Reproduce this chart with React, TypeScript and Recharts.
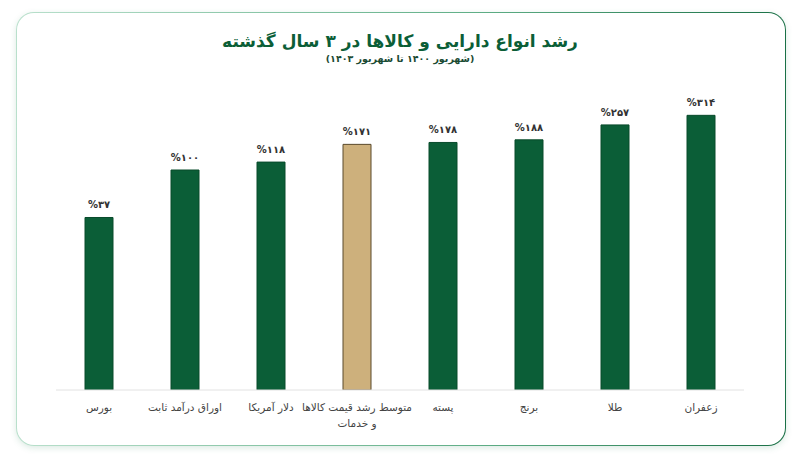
import React from 'react'
import { BarChart, Bar, XAxis, YAxis, Cell, LabelList } from 'recharts'

// categories left to right, as shown
const categories = ['بورس', 'اوراق درآمد ثابت', 'دلار آمریکا', 'متوسط رشد قیمت کالاها و خدمات', 'پسته', 'برنج', 'طلا', 'زعفران']
const growth = [37, 100, 118, 171, 178, 188, 257, 314]
const highlighted = [false, false, false, true, false, false, false, false]

const GREEN = '#0b5e37'
const GREEN_EDGE = '#084a2b'
const TAN = '#cdb07c'
const TAN_EDGE = '#5a4a2c'
const FONT = '"DejaVu Sans", "Noto Sans", sans-serif'

const data = categories.map((name, i) => ({ name, value: growth[i], avg: highlighted[i] }))

const toFa = (n: number) => String(n).replace(/\d/g, (d) => '۰۱۲۳۴۵۶۷۸۹'[+d])

function CategoryTick(props: any) {
  const { x, y, payload } = props
  const label: string = payload.value
  // the long label wraps in two lines
  const lines = label.startsWith('متوسط') ? ['متوسط رشد قیمت کالاها', 'و خدمات'] : [label]
  return (
    <g>
      {lines.map((line, i) => (
        <text
          key={i}
          x={x}
          y={y + 13 + i * 16}
          textAnchor="middle"
          direction="rtl"
          fontFamily={FONT}
          fontSize={10.5}
          fill="#444"
        >
          {line}
        </text>
      ))}
    </g>
  )
}

function ValueLabel(props: any) {
  const { x, y, width, value } = props
  return (
    <text
      x={x + width / 2}
      y={y - 9}
      textAnchor="middle"
      fontFamily={FONT}
      fontSize={10}
      fontWeight="bold"
      fill="#333"
      direction="ltr"
    >
      {'%' + toFa(value)}
    </text>
  )
}

export default function App() {
  return (
    <div style={{ position: 'absolute', left: 0, top: 0, width: 800, height: 459, background: '#fff', overflow: 'hidden' }}>
      <div
        style={{
          position: 'absolute',
          left: 16,
          top: 12,
          width: 768,
          height: 432,
          borderRadius: 18,
          border: '1.5px solid transparent',
          background: 'linear-gradient(#fff, #fff) padding-box, linear-gradient(90deg, #b9e0cc, #5fae86 60%, #1a7046) border-box',
          boxShadow: '0 2px 6px rgba(60, 140, 100, 0.18)',
        }}
      />
      <div
        style={{
          position: 'absolute',
          left: 0,
          top: 30,
          width: 800,
          textAlign: 'center',
          direction: 'rtl',
          fontFamily: FONT,
          color: '#0b5e37',
        }}
      >
        <div style={{ fontSize: 17, fontWeight: 'bold', lineHeight: '22px' }}>رشد انواع دارایی و کالاها در ۳ سال گذشته</div>
        <div style={{ fontSize: 9.5, fontWeight: 'bold', lineHeight: '14px', color: '#1a4a33' }}>(شهریور ۱۴۰۰ تا شهریور ۱۴۰۳)</div>
      </div>
      <div style={{ position: 'absolute', left: 0, top: 0 }}>
        <BarChart width={800} height={459} data={data} margin={{ top: 60, right: 56, bottom: 39, left: 56 }} barCategoryGap={29}>
          <XAxis
            dataKey="name"
            axisLine={{ stroke: '#e2e2e2' }}
            tickLine={false}
            interval={0}
            height={30}
            tick={<CategoryTick />}
          />
          <YAxis hide scale="log" domain={[1, 1000]} allowDataOverflow />
          <Bar dataKey="value" isAnimationActive={false} strokeWidth={1}>
            {data.map((d, i) => (
              <Cell key={i} fill={d.avg ? TAN : GREEN} stroke={d.avg ? TAN_EDGE : GREEN_EDGE} />
            ))}
            <LabelList dataKey="value" content={<ValueLabel />} />
          </Bar>
        </BarChart>
      </div>
    </div>
  )
}
